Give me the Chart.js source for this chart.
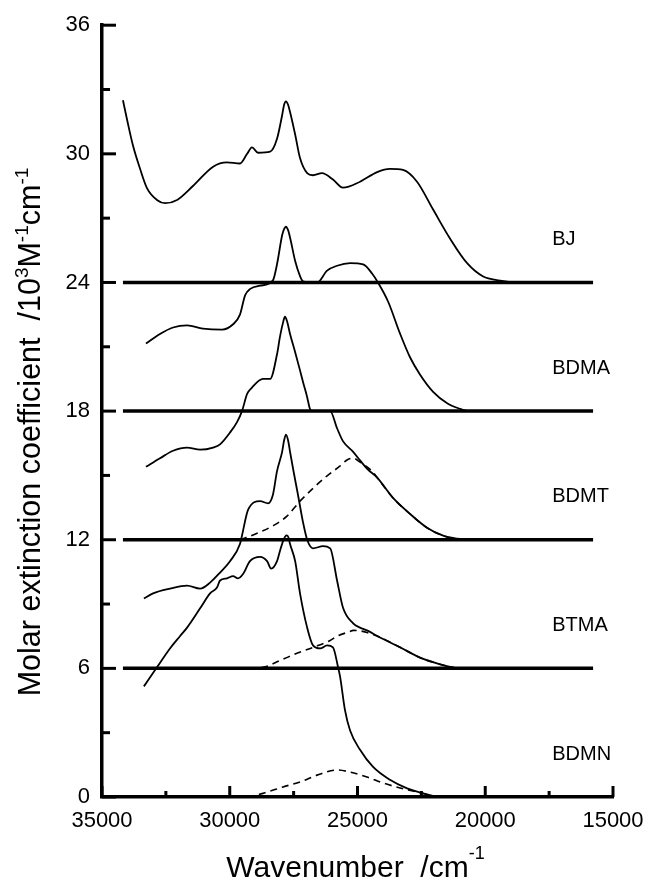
<!DOCTYPE html>
<html>
<head>
<meta charset="utf-8">
<script src="https://cdn.jsdelivr.net/npm/chart.js@4.4.1/dist/chart.umd.min.js"></script>
<style>
  html, body { margin: 0; padding: 0; background: #fff; }
  #c { display: block; }
</style>
</head>
<body>
<canvas id="c" width="645" height="880"></canvas>
<script>
// ---------- data ----------
const xTicks = [35000, 30000, 25000, 20000, 15000];
const xMinorTicks = [32500, 27500, 22500, 17500];
const yTicks = [0, 6, 12, 18, 24, 30, 36];
const yMinorTicks = [3, 9, 15, 21, 27, 33];

const curveNames = ['BJ', 'BDMA', 'BDMT', 'BTMA', 'BDMN'];
const curveOffsets = [24, 18, 12, 6, 0];
const baselineLevels = [24, 18, 12, 6];
const baselineStart = 34180;
const baselineEnd = 15780;

const bjWave = [34180,34020,33790,33510,33240,32850,32530,32060,31440,30650,30110,29600,29320,29130,28890,28420,28150,27950,27870,27800,27720,27640,27440,27250,26970,26740,26390,25960,25570,24900,24230,23730,23220,22670,22040,21380,20710,20080,19420,18910];
const bjValue = [32.5,31.6,30.4,29.3,28.4,27.85,27.7,27.85,28.5,29.4,29.6,29.55,30.0,30.3,30.05,30.1,30.7,31.8,32.3,32.45,32.3,31.95,30.9,29.8,29.1,29.0,29.1,28.8,28.42,28.7,29.15,29.3,29.25,28.7,27.4,26.05,24.9,24.28,24.09,24.0];

const bdmaWave = [33280,32730,32220,31670,31050,30300,29870,29600,29400,29200,28810,28310,28150,27950,27870,27800,27720,27640,27440,27250,27130,26740,26580,26190,25800,25290,24780,24430,24200,23800,23330,22940,22550,22040,21490,20980,20710];
const bdmaValue = [21.15,21.6,21.9,22.0,21.85,21.8,22.05,22.5,23.4,23.7,23.85,24.1,24.85,26.2,26.5,26.6,26.45,26.1,25.0,24.3,24.05,24.0,24.0,24.55,24.78,24.9,24.84,24.42,24.0,23.1,21.6,20.5,19.7,18.9,18.37,18.1,18.0];

const bdmtWave = [33280,32730,32220,31670,31160,30650,30380,29990,29710,29520,29320,29130,28700,28420,28150,28030,27910,27840,27760,27640,27440,27250,27130,26970,26860,26780,26460,26070,25800,25570,25170,24900,24620,24230,23610,22940,22280,21650,21100,20710];
const bdmtValue = [15.4,15.8,16.15,16.3,16.2,16.3,16.45,17.0,17.5,18.0,18.8,19.1,19.5,19.5,20.65,21.5,22.15,22.4,22.2,21.6,20.75,19.9,19.35,18.65,18.1,18.0,18.0,18.0,17.2,16.6,16.1,15.7,15.3,14.9,13.95,13.2,12.56,12.19,12.05,12.0];
const bdmtFitWave = [29600,28930,28310,27760,27250,26740,26190,25680,25410,25170,24900,24430,24230,23610,22940,22280,21650,21100];
const bdmtFitValue = [12.0,12.3,12.65,13.1,13.8,14.4,14.98,15.44,15.72,15.8,15.62,15.2,14.9,13.95,13.2,12.56,12.19,12.0];

const btmaWave = [33360,33000,32340,31670,31160,30770,30380,29990,29600,29520,29280,28810,28500,28310,28150,27950,27870,27800,27720,27640,27520,27330,27130,26970,26740,26350,26070,25800,25570,25170,24900,24630,24120,23330,22550,21770,21100];
const btmaValue = [9.26,9.5,9.72,9.86,9.72,10.0,10.47,11.0,11.8,12.2,13.4,13.8,13.7,14.1,15.2,16.1,16.65,16.9,16.65,16.1,15.3,14.1,12.8,12.0,11.6,11.7,11.6,10.1,8.84,8.1,7.9,7.77,7.44,6.98,6.5,6.19,6.0];
const btmaFitWave = [30650,29600,28700,28030,27370,26740,26070,25800,25290,25170,24900,24630,24190,23330,22550,21770,21100];
const btmaFitValue = [6.0,6.0,6.05,6.37,6.7,6.98,7.3,7.5,7.72,7.77,7.75,7.67,7.49,6.98,6.5,6.19,6.0];

const bdmnWave = [33360,32850,32340,31950,31670,31160,30770,30500,30380,30110,29870,29680,29480,29210,28810,28540,28380,28150,28030,27910,27830,27760,27700,27640,27440,27250,26970,26740,26460,26190,25960,25760,25680,25490,25290,24900,24390,23730,23060,22430,21880];
const bdmnValue = [5.16,6.05,6.93,7.5,7.9,8.8,9.5,9.77,10.1,10.2,10.3,10.2,10.4,11.0,11.2,11.0,10.65,11.0,11.5,11.95,12.15,12.2,12.1,11.8,11.0,9.5,7.9,7.07,6.93,7.07,6.98,6.05,5.6,4.05,3.1,2.2,1.4,0.8,0.4,0.17,0.0];
const bdmnFitWave = [29320,28700,27910,27250,26580,25800,25290,24630,23990,23330,22670,22040];
const bdmnFitValue = [0.0,0.17,0.47,0.7,1.02,1.26,1.16,0.93,0.65,0.42,0.23,0.05];

// label anchor (wavenumber) for curve names
const labelWave = 17380;

// ---------- build ----------
const FONT = '"Liberation Sans", Arial, Helvetica, sans-serif';
function pts(ws, vs) { return ws.map((w, i) => ({ x: w, y: vs[i] })); }
function solid(label, ws, vs) {
  return { label, data: pts(ws, vs), borderColor: '#000', borderWidth: 1.8,
           cubicInterpolationMode: 'monotone', pointRadius: 0, fill: false };
}
function dashed(label, ws, vs) {
  return { label, data: pts(ws, vs), borderColor: '#000', borderWidth: 1.6,
           borderDash: [7, 5], cubicInterpolationMode: 'monotone', pointRadius: 0, fill: false };
}

const datasets = [
  solid('BJ', bjWave, bjValue),
  solid('BDMA', bdmaWave, bdmaValue),
  solid('BDMT', bdmtWave, bdmtValue),
  dashed('BDMT fit', bdmtFitWave, bdmtFitValue),
  solid('BTMA', btmaWave, btmaValue),
  dashed('BTMA fit', btmaFitWave, btmaFitValue),
  solid('BDMN', bdmnWave, bdmnValue),
  dashed('BDMN fit', bdmnFitWave, bdmnFitValue),
];
baselineLevels.forEach(b => {
  datasets.push({ label: 'baseline ' + b,
    data: [{ x: baselineStart, y: b }, { x: baselineEnd, y: b }],
    borderColor: '#000', borderWidth: 3.5, pointRadius: 0, tension: 0, fill: false });
});

function drawRich(ctx, parts, size, supSize, supRaise) {
  let total = 0;
  parts.forEach(p => {
    ctx.font = (p.sup ? supSize : size) + 'px ' + FONT;
    p.w = ctx.measureText(p.t).width;
    total += p.w;
  });
  let x = -total / 2;
  parts.forEach(p => {
    ctx.font = (p.sup ? supSize : size) + 'px ' + FONT;
    ctx.fillText(p.t, x, p.sup ? -supRaise : 0);
    x += p.w;
  });
}

const decor = {
  id: 'decor',
  afterDraw(chart) {
    const { ctx, chartArea, scales: { x, y } } = chart;
    ctx.save();
    ctx.strokeStyle = '#000';
    ctx.fillStyle = '#000';
    ctx.lineCap = 'butt';
    const left = chartArea.left, bottom = chartArea.bottom;
    ctx.lineWidth = 3;
    yTicks.forEach(v => {
      const py = y.getPixelForValue(v);
      ctx.beginPath(); ctx.moveTo(left, py); ctx.lineTo(left + 14, py); ctx.stroke();
    });
    yMinorTicks.forEach(v => {
      const py = y.getPixelForValue(v);
      ctx.beginPath(); ctx.moveTo(left, py); ctx.lineTo(left + 8, py); ctx.stroke();
    });
    xTicks.forEach(v => {
      const px = x.getPixelForValue(v);
      ctx.beginPath(); ctx.moveTo(px, bottom); ctx.lineTo(px, bottom - 11); ctx.stroke();
    });
    xMinorTicks.forEach(v => {
      const px = x.getPixelForValue(v);
      ctx.beginPath(); ctx.moveTo(px, bottom); ctx.lineTo(px, bottom - 6); ctx.stroke();
    });
    ctx.font = '20px ' + FONT;
    ctx.textAlign = 'left';
    ctx.textBaseline = 'middle';
    curveNames.forEach((n, i) => {
      ctx.fillText(n, x.getPixelForValue(labelWave), y.getPixelForValue(curveOffsets[i] + 2));
    });
    ctx.textAlign = 'left';
    ctx.textBaseline = 'alphabetic';
    ctx.save();
    ctx.translate((chartArea.left + chartArea.right) / 2 - 2, 877);
    drawRich(ctx, [{ t: 'Wavenumber  /cm' }, { t: '-1', sup: true }], 30, 18, 18);
    ctx.restore();
    ctx.save();
    ctx.translate(40, 432);
    ctx.rotate(-Math.PI / 2);
    drawRich(ctx, [
      { t: 'Molar extinction coefficient  /10' }, { t: '3', sup: true },
      { t: 'M' }, { t: '-1', sup: true }, { t: 'cm' }, { t: '-1', sup: true }
    ], 30.5, 19, 12);
    ctx.restore();
    ctx.restore();
  }
};

new Chart(document.getElementById('c').getContext('2d'), {
  type: 'line',
  data: { datasets },
  options: {
    responsive: false,
    animation: false,
    devicePixelRatio: 1,
    layout: { padding: { top: 23, right: 32, left: 0, bottom: 0 } },
    plugins: { legend: { display: false }, tooltip: { enabled: false }, title: { display: false } },
    elements: { point: { radius: 0 } },
    scales: {
      x: {
        type: 'linear', reverse: true, min: 15000, max: 35000,
        afterBuildTicks: s => { s.ticks = xTicks.map(v => ({ value: v })); },
        afterFit: s => { s.height = 83; s.paddingLeft = 0; s.paddingRight = 0; },
        ticks: { callback: v => String(v), color: '#000', font: { family: FONT, size: 22 },
                 padding: 11, maxRotation: 0, autoSkip: false },
        grid: { display: false, drawTicks: false },
        border: { display: true, color: '#000', width: 3.5 }
      },
      y: {
        type: 'linear', min: 0, max: 36,
        afterBuildTicks: s => { s.ticks = yTicks.map(v => ({ value: v })); },
        afterFit: s => { s.width = 102; },
        ticks: { color: '#000', font: { family: FONT, size: 22 }, padding: 12 },
        grid: { display: false, drawTicks: false },
        border: { display: true, color: '#000', width: 3.5 }
      }
    }
  },
  plugins: [decor]
});
</script>
</body>
</html>
